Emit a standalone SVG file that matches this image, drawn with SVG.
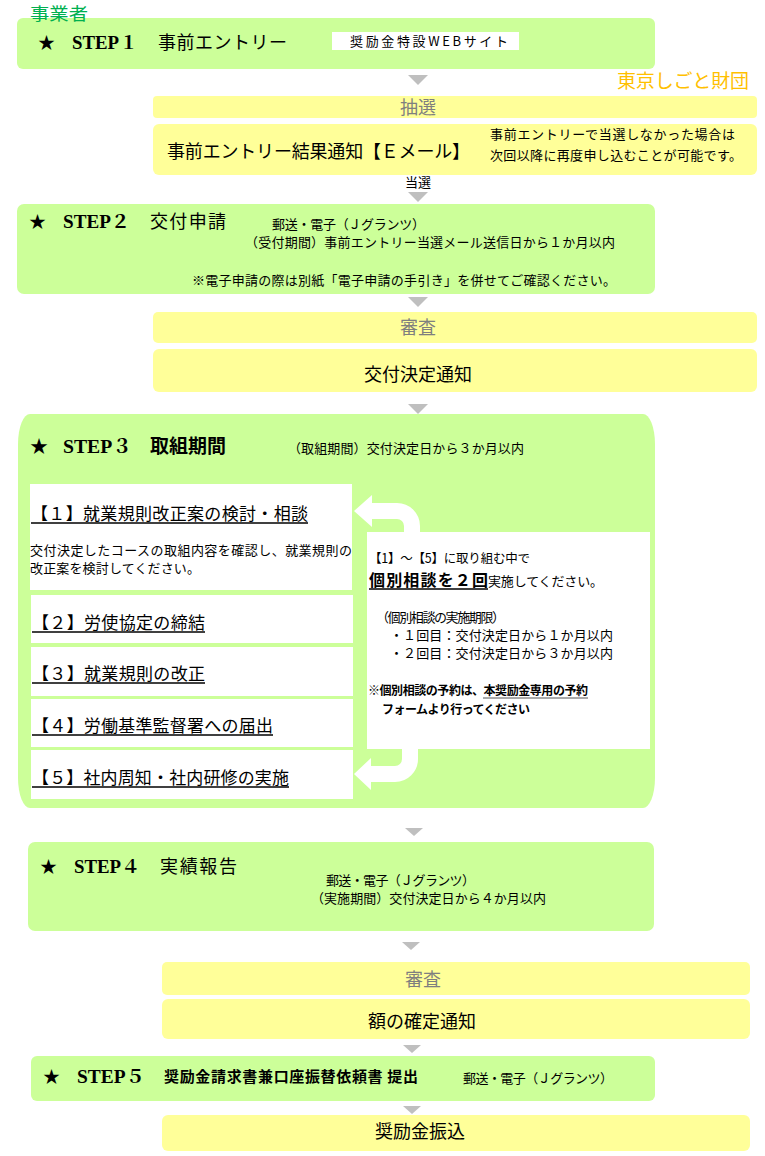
<svg xmlns="http://www.w3.org/2000/svg" width="765" height="1156" viewBox="0 0 765 1156">
<style>
.g{fill:#CCFF99}
.y{fill:#FFFF99}
.w{fill:#FFFFFF}
.t{font-family:"Noto Sans CJK JP","Liberation Sans",sans-serif;fill:#000}
.s{font-family:"Liberation Serif","Noto Serif CJK JP","Noto Sans CJK JP",serif;font-weight:bold;fill:#000}
.gr{fill:#7F7F7F}
.arr{fill:#BFBFBF}
.ul{stroke:#000;stroke-width:1.3}
.curve{fill:none;stroke:#FFFFFF;stroke-width:16}
</style>
<rect width="765" height="1156" fill="#FFFFFF"/>

<g id="step1">
<rect class="g" x="17" y="18" width="638" height="51" rx="6"/>
<text class="s" x="38" y="49" font-size="17">★</text>
<text class="s" x="72" y="49" font-size="18" textLength="66" lengthAdjust="spacingAndGlyphs">STEP１</text>
<text class="t" x="158" y="49" font-size="18" textLength="129">事前エントリー</text>
<rect class="w" x="332" y="32" width="187" height="18"/>
<text class="t" x="350" y="46" font-size="13" textLength="158">奨励金特設WEBサイト</text>
</g>

<g id="label-jigyosha"><text class="t" x="30" y="19.5" font-size="17.5" textLength="58" lengthAdjust="spacingAndGlyphs" style="fill:#00B050">事業者</text></g>
<g id="label-zaidan"><text class="t" x="617" y="88" font-size="19" textLength="132" style="fill:#FFC000">東京しごと財団</text></g>

<g id="chusen">
<rect class="y" x="153" y="96" width="604" height="22" rx="4"/>
<text class="t gr" x="418" y="114" font-size="18" text-anchor="middle">抽選</text>
</g>

<g id="kekka">
<rect class="y" x="153" y="124" width="604" height="51" rx="6"/>
<text class="t" x="167" y="158" font-size="18" textLength="303">事前エントリー結果通知【Ｅメール】</text>
<text class="t" x="490" y="139" font-size="13" textLength="245">事前エントリーで当選しなかった場合は</text>
<text class="t" x="490" y="160" font-size="13" textLength="252">次回以降に再度申し込むことが可能です。</text>
</g>

<g id="label-tosen"><text class="t" x="418" y="187" font-size="13" text-anchor="middle">当選</text></g>

<g id="step2">
<rect class="g" x="17" y="204" width="638" height="90" rx="7"/>
<text class="s" x="29" y="228" font-size="17">★</text>
<text class="s" x="63" y="228" font-size="18" textLength="67" lengthAdjust="spacingAndGlyphs">STEP２</text>
<text class="t" x="150" y="228" font-size="18" textLength="76">交付申請</text>
<text class="t" x="272" y="229" font-size="13" textLength="153">郵送・電子（Ｊグランツ）</text>
<text class="t" x="245" y="247" font-size="13" textLength="370">（受付期間）事前エントリー当選メール送信日から１か月以内</text>
<text class="t" x="192" y="285" font-size="13" textLength="424">※電子申請の際は別紙「電子申請の手引き」を併せてご確認ください。</text>
</g>

<g id="shinsa1">
<rect class="y" x="153" y="312" width="604" height="31" rx="5"/>
<text class="t gr" x="418" y="334" font-size="18" text-anchor="middle">審査</text>
</g>

<g id="kofu-kettei">
<rect class="y" x="153" y="349" width="604" height="43" rx="6"/>
<text class="t" x="418" y="381" font-size="18" text-anchor="middle">交付決定通知</text>
</g>

<g id="step3">
<rect class="g" x="18" y="414" width="637" height="394" rx="12" ry="30"/>
<text class="s" x="30" y="453" font-size="18">★</text>
<text class="s" x="63" y="453" font-size="19" textLength="69" lengthAdjust="spacingAndGlyphs">STEP３</text>
<text class="t" x="150" y="453" font-size="19" font-weight="bold" textLength="76">取組期間</text>
<text class="t" x="288" y="453" font-size="13" textLength="236">（取組期間）交付決定日から３か月以内</text>
</g>

<g id="task1">
<rect class="w" x="30" y="484" width="322" height="106"/>
<text class="t" x="31" y="520" font-size="17" textLength="277">【１】就業規則改正案の検討・相談</text>
<line class="ul" x1="31" y1="523" x2="308" y2="523"/>
<text class="t" x="30" y="555" font-size="13" textLength="322">交付決定したコースの取組内容を確認し、就業規則の</text>
<text class="t" x="30" y="573" font-size="13" textLength="170">改正案を検討してください。</text>
</g>

<g id="task2">
<rect class="w" x="31" y="595" width="322" height="48"/>
<text class="t" x="32" y="629" font-size="17" textLength="173">【２】労使協定の締結</text>
<line class="ul" x1="32" y1="632" x2="205" y2="632"/>
</g>

<g id="task3">
<rect class="w" x="31" y="647" width="322" height="49"/>
<text class="t" x="32" y="680" font-size="17" textLength="173">【３】就業規則の改正</text>
<line class="ul" x1="32" y1="683" x2="205" y2="683"/>
</g>

<g id="task4">
<rect class="w" x="31" y="699" width="322" height="48"/>
<text class="t" x="32" y="732" font-size="17" textLength="241">【４】労働基準監督署への届出</text>
<line class="ul" x1="32" y1="735" x2="273" y2="735"/>
</g>

<g id="task5">
<rect class="w" x="31" y="750" width="322" height="49"/>
<text class="t" x="32" y="784" font-size="17" textLength="257">【５】社内周知・社内研修の実施</text>
<line class="ul" x1="32" y1="787" x2="289" y2="787"/>
</g>

<g id="consult">
<rect class="w" x="367" y="532" width="283" height="217"/>
<text class="t" x="369" y="563" font-size="12.5" textLength="161">【1】～【5】に取り組む中で</text>
<text class="t" x="369" y="586" font-size="16" font-weight="bold" textLength="119">個別相談を２回</text>
<line class="ul" x1="369" y1="589" x2="488" y2="589"/>
<text class="t" x="488" y="586" font-size="13" textLength="115">実施してください。</text>
<text class="t" x="376" y="622" font-size="13" textLength="129">（個別相談の実施期限）</text>
<text class="t" x="390" y="640" font-size="13" textLength="223">・１回目：交付決定日から１か月以内</text>
<text class="t" x="390" y="658" font-size="13" textLength="223">・２回目：交付決定日から３か月以内</text>
<text class="t" x="368" y="695" font-size="12" font-weight="bold" textLength="220">※個別相談の予約は、本奨励金専用の予約</text>
<line x1="483" y1="698" x2="588" y2="698" stroke="#555" stroke-width="1"/>
<text class="t" x="382" y="714" font-size="12" font-weight="bold" textLength="148">フォームより行ってください</text>
</g>

<g id="step4">
<rect class="g" x="28" y="842" width="626" height="89" rx="7"/>
<text class="s" x="40" y="873" font-size="17">★</text>
<text class="s" x="74" y="873" font-size="18" textLength="66" lengthAdjust="spacingAndGlyphs">STEP４</text>
<text class="t" x="160" y="873" font-size="18" textLength="77">実績報告</text>
<text class="t" x="326" y="885" font-size="13" textLength="149">郵送・電子（Ｊグランツ）</text>
<text class="t" x="311" y="903" font-size="13" textLength="235">（実施期間）交付決定日から４か月以内</text>
</g>

<g id="shinsa2">
<rect class="y" x="162" y="962" width="588" height="33" rx="5"/>
<text class="t gr" x="423" y="986" font-size="18" text-anchor="middle">審査</text>
</g>

<g id="gaku-kakutei">
<rect class="y" x="162" y="999" width="588" height="40" rx="6"/>
<text class="t" x="422" y="1028" font-size="18" text-anchor="middle">額の確定通知</text>
</g>

<g id="step5">
<rect class="g" x="31" y="1056" width="624" height="45" rx="6"/>
<text class="s" x="43" y="1083" font-size="17">★</text>
<text class="s" x="77" y="1083" font-size="18" textLength="68" lengthAdjust="spacingAndGlyphs">STEP５</text>
<text class="t" x="164" y="1082" font-size="15" font-weight="bold" textLength="254">奨励金請求書兼口座振替依頼書 提出</text>
<text class="t" x="463" y="1083" font-size="13" textLength="150">郵送・電子（Ｊグランツ）</text>
</g>

<g id="furikomi">
<rect class="y" x="162" y="1115" width="588" height="36" rx="6"/>
<text class="t" x="420" y="1138" font-size="18" text-anchor="middle">奨励金振込</text>
</g>

<g id="connectors">
<polygon class="arr" points="408,75 428,75 418,85"/>
<polygon class="arr" points="408,192 428,192 418,202"/>
<polygon class="arr" points="408,297 428,297 418,307"/>
<polygon class="arr" points="408,404 428,404 418,414"/>
<polygon class="arr" points="405,828 423,828 414,836"/>
<polygon class="arr" points="402,942 420,942 411,950"/>
<polygon class="arr" points="403,1045 421,1045 412,1053"/>
<polygon class="arr" points="403,1106 421,1106 412,1114"/>
<path class="curve" d="M412,534 V526 A15,15 0 0 0 397,511 H370"/>
<polygon class="w" points="354,511 372,495 372,527"/>
<path class="curve" d="M410,745 V759 A15,15 0 0 1 395,774 H369"/>
<polygon class="w" points="354,774 371,758 371,790"/>
</g>
</svg>
